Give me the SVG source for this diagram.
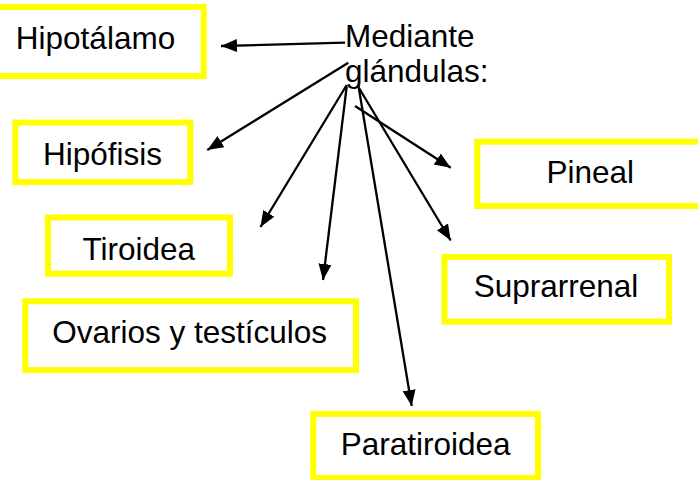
<svg xmlns="http://www.w3.org/2000/svg" width="698" height="480" viewBox="0 0 698 480">
<style>
.box{fill:#ffffff;stroke:#ffff00;stroke-width:6}
.lbl{font-family:"Liberation Sans",Arial,sans-serif;font-size:31.5px;fill:#000000}
.c{text-anchor:middle}
.edge{stroke:#000000;stroke-width:2.3;fill:none}
</style>
<defs>
<marker id="ah" markerUnits="userSpaceOnUse" markerWidth="17" markerHeight="14" refX="16" refY="6.5" orient="auto">
<path d="M0,0 L16,6.5 L0,13 z" fill="#000000"/>
</marker>
</defs>
<rect x="0" y="0" width="698" height="480" fill="#ffffff"/>
<g id="hipotalamo"><rect class="box" x="-10" y="7" width="213.7" height="69"/><text class="lbl c" x="95.5" y="49.3">Hipotálamo</text></g>
<g id="hipofisis"><rect class="box" x="15.3" y="122.5" width="175" height="59.5"/><text class="lbl c" x="102.5" y="165">Hipófisis</text></g>
<g id="pineal"><rect class="box" x="477.3" y="141.7" width="232.7" height="64.3"/><text class="lbl c" x="590.3" y="183.3">Pineal</text></g>
<g id="tiroidea"><rect class="box" x="48" y="217.5" width="182" height="56.2"/><text class="lbl c" x="138.8" y="260">Tiroidea</text></g>
<g id="suprarrenal"><rect class="box" x="444.5" y="257" width="224.5" height="64.7"/><text class="lbl c" x="556" y="296.7">Suprarrenal</text></g>
<g id="ovarios"><rect class="box" x="25.3" y="301.3" width="330.7" height="68.7"/><text class="lbl c" x="189.7" y="342.7">Ovarios y testículos</text></g>
<g id="paratiroidea"><rect class="box" x="313.3" y="414" width="224.7" height="64"/><text class="lbl c" x="425.7" y="455">Paratiroidea</text></g>
<g id="mediante"><text class="lbl" x="345" y="46.7">Mediante</text><text class="lbl" x="345" y="81.7">glándulas:</text></g>
<g id="connectors">
<line class="edge" x1="345" y1="42.7" x2="221" y2="46" marker-end="url(#ah)"/>
<line class="edge" x1="348.3" y1="62.7" x2="207.3" y2="150" marker-end="url(#ah)"/>
<line class="edge" x1="346.7" y1="85" x2="260.5" y2="227" marker-end="url(#ah)"/>
<line class="edge" x1="346.7" y1="86.7" x2="323" y2="280" marker-end="url(#ah)"/>
<line class="edge" x1="358.3" y1="85" x2="411.7" y2="406" marker-end="url(#ah)"/>
<line class="edge" x1="359" y1="88" x2="450.7" y2="240.5" marker-end="url(#ah)"/>
<line class="edge" x1="355" y1="106" x2="450.7" y2="167.7" marker-end="url(#ah)"/>
</g>
</svg>
